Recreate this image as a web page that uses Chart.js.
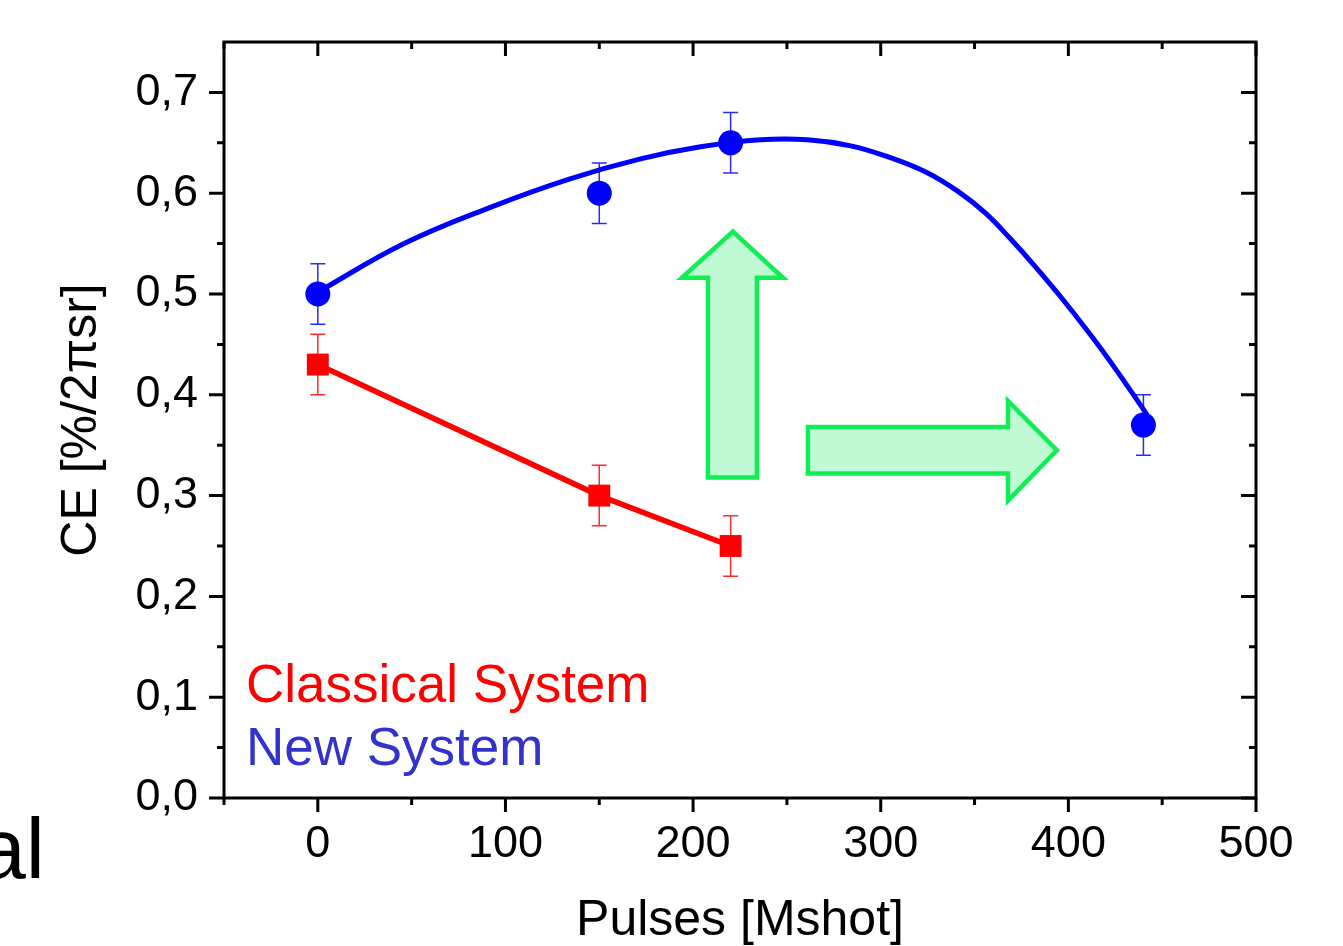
<!DOCTYPE html>
<html>
<head>
<meta charset="utf-8">
<script src="https://cdn.jsdelivr.net/npm/chart.js@4.4.1/dist/chart.umd.min.js"></script>
<style>
  html, body { margin: 0; padding: 0; background: #fff; }
  #wrap { width: 1343px; height: 946px; }
</style>
</head>
<body>
<div id="wrap"><canvas id="ceChart" width="1343" height="946"></canvas></div>
<script>
// classical system measurements
var classicalPulses = [0, 150, 220];
var classicalCE = [0.43, 0.30, 0.25];
var classicalErr = [0.03, 0.03, 0.03];

// new system measurements
var newPulses = [0, 150, 220, 440];
var newCE = [0.50, 0.60, 0.65, 0.37];
var newErr = [0.03, 0.03, 0.03, 0.03];

// trend curve through the new system
var fitPulses = [0, 46, 92, 134, 172, 204, 236, 261, 284, 304, 324, 341, 356, 369, 382, 396, 412, 425, 438, 442];
var fitCE = [0.502, 0.55, 0.586, 0.614, 0.634, 0.646, 0.653, 0.653, 0.647, 0.636, 0.621, 0.602, 0.580, 0.555, 0.528, 0.497, 0.459, 0.426, 0.391, 0.380];

var xTicks = [0, 100, 200, 300, 400, 500];
var yTicks = [0, 0.1, 0.2, 0.3, 0.4, 0.5, 0.6, 0.7];

var FONT = "'Liberation Sans', Arial, sans-serif";
Chart.defaults.font.family = FONT;
Chart.defaults.color = '#000';

function toPoints(xs, ys) {
  return xs.map(function (x, i) { return { x: x, y: ys[i] }; });
}

// error bars, drawn under the markers
var errorBars = {
  id: 'errorBars',
  beforeDatasetsDraw: function (chart) {
    var ctx = chart.ctx, xs = chart.scales.x, ys = chart.scales.y;
    function bars(px, py, err, color) {
      ctx.strokeStyle = color;
      ctx.lineWidth = 1.5;
      px.forEach(function (p, i) {
        var x = xs.getPixelForValue(p);
        var y1 = ys.getPixelForValue(py[i] - err[i]);
        var y2 = ys.getPixelForValue(py[i] + err[i]);
        ctx.beginPath();
        ctx.moveTo(x, y1); ctx.lineTo(x, y2);
        ctx.moveTo(x - 7.5, y1); ctx.lineTo(x + 7.5, y1);
        ctx.moveTo(x - 7.5, y2); ctx.lineTo(x + 7.5, y2);
        ctx.stroke();
      });
    }
    ctx.save();
    bars(classicalPulses, classicalCE, classicalErr, '#ff2a2a');
    bars(newPulses, newCE, newErr, '#2a2aff');
    ctx.restore();
  }
};

// green arrows, in data units
var arrowShapes = [
  [[207.9, 0.318], [207.9, 0.516], [194, 0.516], [221.2, 0.562], [247.9, 0.516], [234, 0.516], [234, 0.318]],
  [[261.2, 0.322], [261.2, 0.368], [367.8, 0.368], [367.8, 0.394], [393.9, 0.345], [367.8, 0.295], [367.8, 0.322]]
];

var decorations = {
  id: 'decorations',
  afterDatasetsDraw: function (chart) {
    var ctx = chart.ctx, xs = chart.scales.x, ys = chart.scales.y;
    ctx.save();
    ctx.lineWidth = 4.5;
    ctx.lineJoin = 'miter';
    ctx.strokeStyle = '#11ee55';
    ctx.fillStyle = '#c0fad4';
    arrowShapes.forEach(function (shape) {
      ctx.beginPath();
      shape.forEach(function (pt, i) {
        var x = xs.getPixelForValue(pt[0]), y = ys.getPixelForValue(pt[1]);
        if (i === 0) ctx.moveTo(x, y); else ctx.lineTo(x, y);
      });
      ctx.closePath();
      ctx.fill();
      ctx.stroke();
    });
    ctx.restore();
  },
  afterDraw: function (chart) {
    var ctx = chart.ctx, a = chart.chartArea, xs = chart.scales.x, ys = chart.scales.y;
    ctx.save();
    // frame
    ctx.strokeStyle = '#000';
    ctx.lineWidth = 3;
    ctx.strokeRect(a.left, a.top, a.right - a.left, a.bottom - a.top);
    // ticks: outward on left/bottom, inward on right/top
    ctx.beginPath();
    yTicks.forEach(function (v) {
      var y = ys.getPixelForValue(v);
      ctx.moveTo(a.left - 15, y); ctx.lineTo(a.left, y);
      ctx.moveTo(a.right, y); ctx.lineTo(a.right - 15, y);
      var m = v + 0.05;
      if (m < 0.75) {
        var ym = ys.getPixelForValue(m);
        ctx.moveTo(a.left - 7, ym); ctx.lineTo(a.left, ym);
        ctx.moveTo(a.right, ym); ctx.lineTo(a.right - 7, ym);
      }
    });
    xTicks.forEach(function (v) {
      var x = xs.getPixelForValue(v);
      ctx.moveTo(x, a.bottom); ctx.lineTo(x, a.bottom + 14);
      ctx.moveTo(x, a.top); ctx.lineTo(x, a.top + 14);
      var xm = xs.getPixelForValue(v - 50);
      ctx.moveTo(xm, a.bottom); ctx.lineTo(xm, a.bottom + 7);
      ctx.moveTo(xm, a.top); ctx.lineTo(xm, a.top + 7);
    });
    ctx.stroke();
    // in-plot legend text
    ctx.font = '53px ' + FONT;
    ctx.textBaseline = 'alphabetic';
    ctx.textAlign = 'left';
    ctx.fillStyle = '#ff0000';
    ctx.fillText('Classical System', 246, 702);
    ctx.fillStyle = '#3333cc';
    ctx.fillText('New System', 246, 765);
    // cropped slide text at the left edge
    ctx.fillStyle = '#000';
    ctx.font = '86px ' + FONT;
    ctx.fillText('al', -22, 878);
    ctx.restore();
  }
};

new Chart(document.getElementById('ceChart'), {
  type: 'scatter',
  data: {
    datasets: [
      {
        label: 'New System',
        data: toPoints(newPulses, newCE),
        showLine: false,
        pointStyle: 'circle',
        pointRadius: 12.5,
        pointBorderWidth: 0,
        pointBackgroundColor: '#0000ff',
        order: 0
      },
      {
        label: 'Classical System',
        data: toPoints(classicalPulses, classicalCE),
        showLine: true,
        borderColor: '#ff0000',
        borderWidth: 5.5,
        pointStyle: 'rect',
        pointRadius: 15.5,
        pointBorderWidth: 0,
        pointBackgroundColor: '#ff0000',
        order: 1
      },
      {
        label: 'fit',
        data: toPoints(fitPulses, fitCE),
        showLine: true,
        borderColor: '#0000ff',
        borderWidth: 5,
        pointRadius: 0,
        tension: 0.4,
        order: 2
      }
    ]
  },
  options: {
    responsive: false,
    animation: false,
    devicePixelRatio: 1,
    layout: { padding: { top: 42, right: 87, left: 0, bottom: 0 } },
    plugins: { legend: { display: false }, tooltip: { enabled: false } },
    scales: {
      x: {
        type: 'linear',
        min: -50,
        max: 500,
        afterBuildTicks: function (s) { s.ticks = xTicks.map(function (v) { return { value: v }; }); },
        afterFit: function (s) { s.height = 148; s.paddingLeft = 0; s.paddingRight = 0; },
        grid: { display: false, drawTicks: false },
        border: { display: false },
        ticks: {
          padding: 20,
          autoSkip: false,
          maxRotation: 0,
          font: { size: 45 },
          callback: function (v) { return String(v); }
        },
        title: {
          display: true,
          text: 'Pulses [Mshot]',
          font: { size: 50, lineHeight: 1.0 },
          padding: { top: 0, bottom: 0 }
        }
      },
      y: {
        type: 'linear',
        min: 0,
        max: 0.75,
        afterBuildTicks: function (s) { s.ticks = yTicks.map(function (v) { return { value: v }; }); },
        afterFit: function (s) { s.width = 224; s.paddingTop = 0; s.paddingBottom = 0; },
        grid: { display: false, drawTicks: false },
        border: { display: false },
        ticks: {
          padding: 26,
          font: { size: 45 },
          callback: function (v) { return v.toFixed(1).replace('.', ','); }
        },
        title: {
          display: true,
          text: 'CE [%/2πsr]',
          font: { size: 50, lineHeight: 1.1 },
          padding: { top: 55, bottom: 0 }
        }
      }
    }
  },
  plugins: [errorBars, decorations]
});
</script>
</body>
</html>
